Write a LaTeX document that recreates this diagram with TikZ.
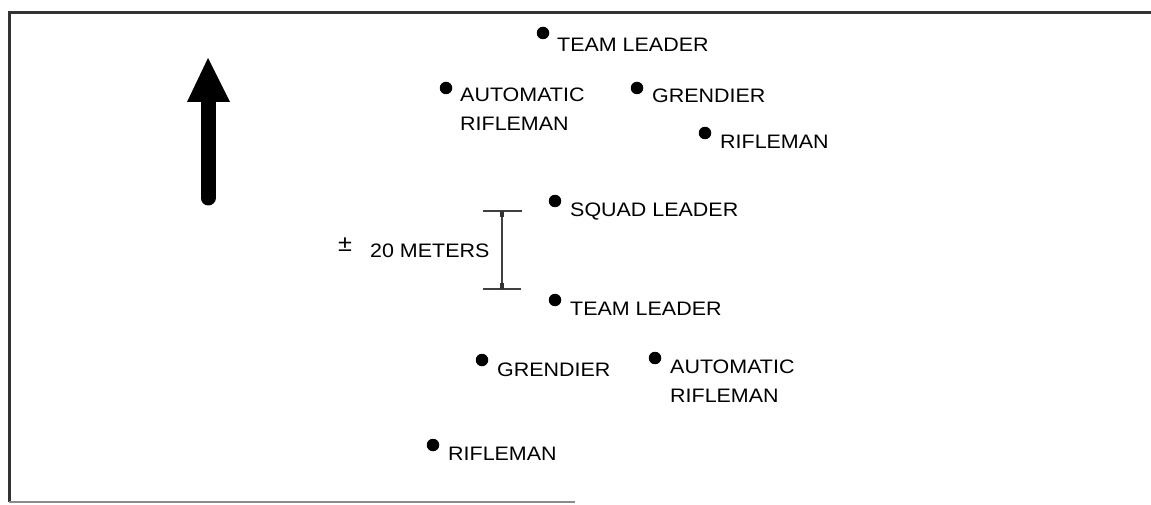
\documentclass[tikz,border=0pt]{standalone}
\usepackage{fontspec}
\setmainfont{Liberation Sans}[FakeStretch=1.1]
\begin{document}
\begin{tikzpicture}[x=1pt,y=-1pt,
  dot/.style={circle,fill=black,inner sep=0pt,minimum size=12.5pt},
  lab/.style={anchor=north west,inner sep=0pt,align=left,text=black,
    font=\fontsize{19.5}{29}\selectfont},
  frameline/.style={line width=3pt,draw=black!80},
  dimline/.style={line width=1.2pt,draw=black!75}]
\useasboundingbox (0,0) rectangle (1151,505);
% frame
\coordinate (ftr) at (1151,13);
\coordinate (ftl) at (9,13);
\coordinate (fbl) at (9,502);
\coordinate (fbr) at (575,502);
\draw[frameline] (ftr) -- (ftl) -- (fbl);
\draw[line width=2pt,draw=black!45] (fbl) -- (fbr);
% north arrow
\coordinate (ab) at (208,198);
\coordinate (ah) at (208,102);
\coordinate (at) at (208,58);
\draw[line width=15pt,line cap=round] (ab) -- (ah);
\fill (187,102) -- (at) -- (230,102) -- cycle;
% first team
\node[dot] (d1) at (543,33) {};
\node[lab] (t1) at (557,38) {TEAM LEADER};
\node[dot] (d2) at (446,88) {};
\node[lab] (t2) at (460,88) {AUTOMATIC\\RIFLEMAN};
\node[dot] (d3) at (637,88) {};
\node[lab] (t3) at (652,89) {GRENDIER};
\node[dot] (d4) at (705,133) {};
\node[lab] (t4) at (720,135) {RIFLEMAN};
% squad leader
\node[dot] (d5) at (555,201) {};
\node[lab] (t5) at (570,203) {SQUAD LEADER};
% second team
\node[dot] (d6) at (555,300) {};
\node[lab] (t6) at (570,302) {TEAM LEADER};
\node[dot] (d7) at (482,360) {};
\node[lab] (t7) at (497,363) {GRENDIER};
\node[dot] (d8) at (655,358) {};
\node[lab] (t8) at (670,360) {AUTOMATIC\\RIFLEMAN};
\node[dot] (d9) at (433,445) {};
\node[lab] (t9) at (448,447) {RIFLEMAN};
% distance marker
\coordinate (mt) at (502,211);
\coordinate (mb) at (502,289);
\coordinate (mtl) at (483,211);
\coordinate (mtr) at (522,211);
\coordinate (mbl) at (483,289);
\coordinate (mbr) at (521,289);
\draw[dimline] (mt) -- (mb);
\draw[dimline] (mtl) -- (mtr);
\draw[dimline] (mbl) -- (mbr);
\fill[black!80] (mt) ++(-2,0) rectangle ++(4,6);
\fill[black!80] (mb) ++(-2,0) rectangle ++(4,-6);
\node[anchor=north west,inner sep=0pt,text=black,font=\fontsize{23}{23}\selectfont] (pm) at (338,238) {±};
\node[lab] (dist) at (370,244) {20 METERS};
\end{tikzpicture}
\end{document}
